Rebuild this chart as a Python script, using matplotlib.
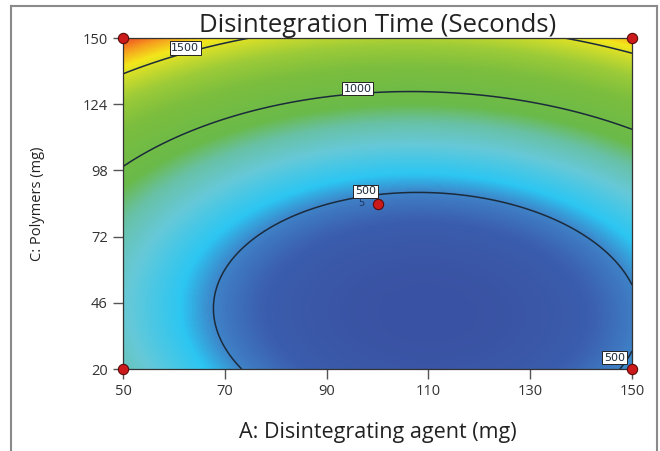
import numpy as np
import matplotlib.pyplot as plt
from matplotlib.colors import LinearSegmentedColormap
from matplotlib.lines import Line2D

plt.rcParams['font.family'] = ['Open Sans', 'DejaVu Sans']

# quadratic response model in coded units, estimated from the contours
# terms: intercept, A, C, AC, A^2, C^2
coef = [471, -98, 521, 28, 301, 397]

a_range = [50, 150]
c_range = [20, 150]
x_ticks = [50, 70, 90, 110, 130, 150]
y_ticks = [20, 46, 72, 98, 124, 150]
levels = [500, 1000, 1500]
label_pos = [(62, 145.7), (96, 130), (97.5, 89.5), (149, 22)]

design_a = [50, 50, 150, 150, 100]
design_c = [20, 150, 20, 150, 85]
center_runs = "5"

# colour ramp blue -> cyan -> green -> yellow -> red
cmap_stops = [0.0, 0.08, 0.14, 0.19, 0.28, 0.36, 0.43, 0.60, 0.71, 0.79, 0.86, 0.93, 1.0]
cmap_colors = ['#3a52a3', '#3b5dad', '#3f80c6', '#2cc6f2', '#66c9d8', '#68c1a5',
               '#6aba4a', '#7cbe3e', '#9ccb38', '#c8da2d', '#f3e71b', '#f6a01e', '#ef4a24']
cmap = LinearSegmentedColormap.from_list('de', list(zip(cmap_stops, cmap_colors)))

A = np.linspace(a_range[0], a_range[1], 400)
C = np.linspace(c_range[0], c_range[1], 400)
AA, CC = np.meshgrid(A, C)
a = (AA - 100) / 50
c = (CC - 85) / 65
Z = coef[0] + coef[1]*a + coef[2]*c + coef[3]*a*c + coef[4]*a**2 + coef[5]*c**2

fig = plt.figure(figsize=(6.6, 4.51), dpi=100)
ax = fig.add_axes([0.1864, 0.1818, 0.7712, 0.7339])

ax.imshow(Z, extent=[A[0], A[-1], C[0], C[-1]], origin='lower', aspect='auto',
          cmap=cmap, vmin=Z.min(), vmax=Z.max(), interpolation='bilinear')

cs = ax.contour(AA, CC, Z, levels=levels, colors='#1b2b3b', linewidths=1.1)
lbls = ax.clabel(cs, fmt='%d', fontsize=8, inline=False, manual=label_pos)
for i, t in enumerate(lbls):
    t.set_rotation(0)
    t.set_family('DejaVu Sans')
    t.set_va('bottom')
    if i == len(lbls) - 1:
        t.set_ha('right')
    t.set_bbox(dict(boxstyle='square,pad=0.15', fc='white', ec='#222222', lw=0.7))
    t.set_zorder(6)

ax.scatter(design_a, design_c, s=55, c='#cc1a1a', edgecolors='#5a0a0a',
           linewidths=0.8, zorder=5, clip_on=False)
ax.text(design_a[-1] - 2.5, design_c[-1], center_runs, fontsize=7.5,
        color='#1f2f55', ha='right', va='center', zorder=7)

ax.set_xlim(a_range)
ax.set_ylim(c_range)
ax.set_xticks(x_ticks)
ax.set_yticks(y_ticks)
ax.tick_params(direction='out', length=7, width=1, colors='#555555',
               labelcolor='#333333', labelsize=10.5, pad=4)
for s in ax.spines.values():
    s.set_color('#333333')
    s.set_linewidth(0.9)

ax.set_title('Disintegration Time (Seconds)', fontsize=18.5, color='#222222', pad=2)
ax.set_xlabel('A: Disintegrating agent (mg)', fontsize=15.5, color='#222222', labelpad=16)
ax.set_ylabel('C: Polymers (mg)', fontsize=10.5, color='#222222', labelpad=27)

# outer frame of the original screenshot
for xs, ys in [([11/660, 11/660], [0, 1 - 6/451]),
               ([657/660, 657/660], [0, 1 - 6/451]),
               ([11/660, 657/660], [1 - 6/451, 1 - 6/451])]:
    fig.add_artist(Line2D(xs, ys, color='#8a8a8a', lw=1.5))

fig.savefig('out.png', dpi=100)
